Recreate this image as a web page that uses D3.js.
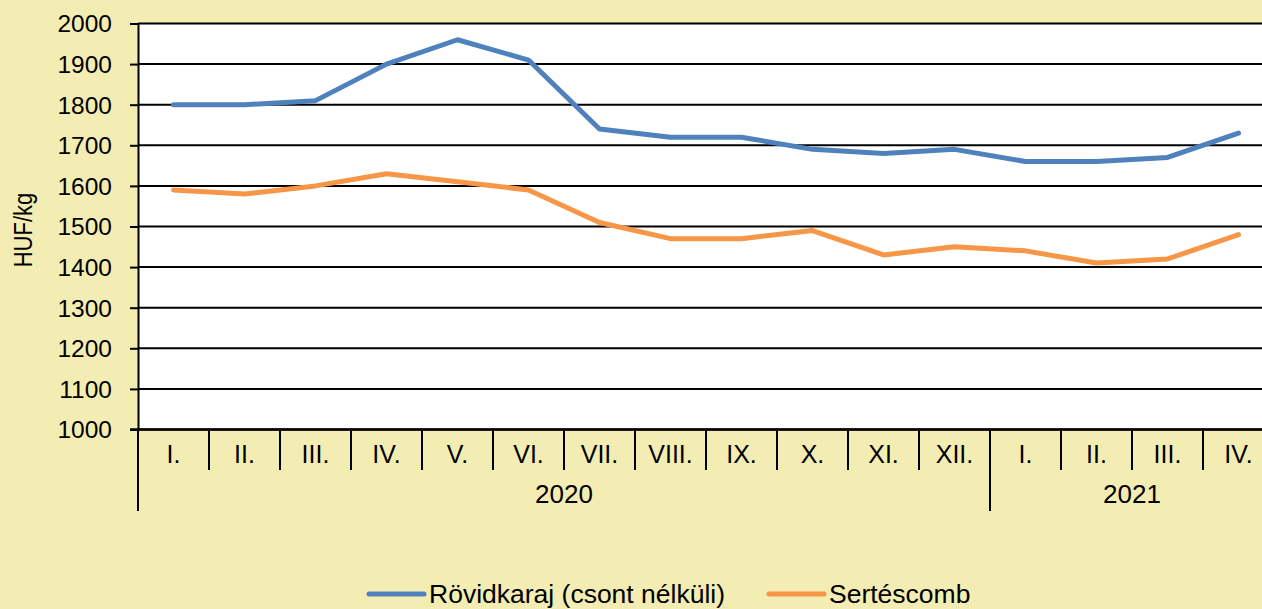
<!DOCTYPE html>
<html><head><meta charset="utf-8">
<script src="https://cdn.jsdelivr.net/npm/d3@7"></script>
<style>
html,body{margin:0;padding:0;background:#F4EDB3;}
svg{display:block;font-family:"Liberation Sans",Arial,sans-serif;}
</style></head><body>
<svg id="c" width="1262" height="609"></svg>
<script>
const months = ["I.","II.","III.","IV.","V.","VI.","VII.","VIII.","IX.","X.","XI.","XII.","I.","II.","III.","IV."];
const years = [{label:"2020", start:0, count:12},{label:"2021", start:12, count:4}];
const seriesNames = ["Rövidkaraj (csont nélküli)","Sertéscomb"];
const rovidkaraj = [1800,1800,1810,1900,1960,1910,1740,1720,1720,1690,1680,1690,1660,1660,1670,1730];
const sertescomb = [1590,1580,1600,1630,1610,1590,1510,1470,1470,1490,1430,1450,1440,1410,1420,1480];
const yTicks = [1000,1100,1200,1300,1400,1500,1600,1700,1800,1900,2000];
const colors = ["#4F81BD","#F79646"];

const svg = d3.select("#c");
const L=138, R=1274, T=23.5, B=429.5;
svg.append("rect").attr("width",1262).attr("height",609).attr("fill","#F4EDB3");
const idx = months.map((d,i)=>i);
const x = d3.scaleBand().domain(idx).range([L,R]).padding(0);
const y = d3.scaleLinear().domain([1000,2000]).range([B,T]);

svg.append("rect").attr("x",L).attr("y",T).attr("width",R-L).attr("height",B-T).attr("fill","#fff");

// gridlines
svg.append("g").selectAll("line").data(yTicks).join("line")
  .attr("x1",L).attr("x2",R).attr("y1",d=>y(d)).attr("y2",d=>y(d))
  .attr("stroke","#000").attr("stroke-width",2);

// y axis
const ya = svg.append("g").attr("transform",`translate(${L},0)`)
  .call(d3.axisLeft(y).tickValues(yTicks).tickFormat(d3.format("d")).tickSize(8).tickPadding(18));
ya.attr("font-size",null).attr("font-family",null);
ya.select(".domain").attr("stroke","#000").attr("stroke-width",2);
ya.selectAll(".tick line").attr("stroke","#000").attr("stroke-width",2);
ya.selectAll(".tick text").attr("font-size",24.5).attr("fill","#000").attr("dy","0.34em");

svg.append("text").attr("transform","translate(31.5,230) rotate(-90) scale(1,1.15)")
  .attr("text-anchor","middle").attr("font-size",22).attr("fill","#000").text("HUF/kg");

// x axis
const xa = svg.append("g");
xa.append("line").attr("x1",L-8).attr("x2",R).attr("y1",B).attr("y2",B).attr("stroke","#000").attr("stroke-width",2.5);
const bounds = d3.range(months.length+1);
const yearBounds = new Set([0].concat(years.map(yy=>yy.start+yy.count)));
xa.selectAll("line.sep").data(bounds).join("line").attr("class","sep")
  .attr("x1",d=>L+d*x.step()).attr("x2",d=>L+d*x.step())
  .attr("y1",B).attr("y2",d=>yearBounds.has(d)?511:470)
  .attr("stroke","#000").attr("stroke-width",2);
xa.selectAll("text.m").data(months).join("text").attr("class","m")
  .attr("x",(d,i)=>x(i)+x.bandwidth()/2).attr("y",463)
  .attr("text-anchor","middle").attr("font-size",25).attr("fill","#000").text(d=>d);
xa.selectAll("text.yr").data(years).join("text").attr("class","yr")
  .attr("x",d=>L+(d.start+d.count/2)*x.step()).attr("y",503)
  .attr("text-anchor","middle").attr("font-size",26).attr("fill","#000").text(d=>d.label);

// lines
const line = d3.line().x((d,i)=>x(i)+x.bandwidth()/2).y(d=>y(d));
[rovidkaraj,sertescomb].forEach((s,k)=>{
  svg.append("path").datum(s).attr("d",line).attr("fill","none")
    .attr("stroke",colors[k]).attr("stroke-width",5).attr("stroke-linejoin","round").attr("stroke-linecap","round");
});

// legend
const leg = [{x:369,tx:429},{x:769,tx:829}];
seriesNames.forEach((n,k)=>{
  svg.append("line").attr("x1",leg[k].x).attr("x2",leg[k].x+55).attr("y1",594).attr("y2",594)
    .attr("stroke",colors[k]).attr("stroke-width",5).attr("stroke-linecap","round");
  svg.append("text").attr("x",leg[k].tx).attr("y",603).attr("font-size",26.5).attr("fill","#000").text(n);
});
</script>
</body></html>
